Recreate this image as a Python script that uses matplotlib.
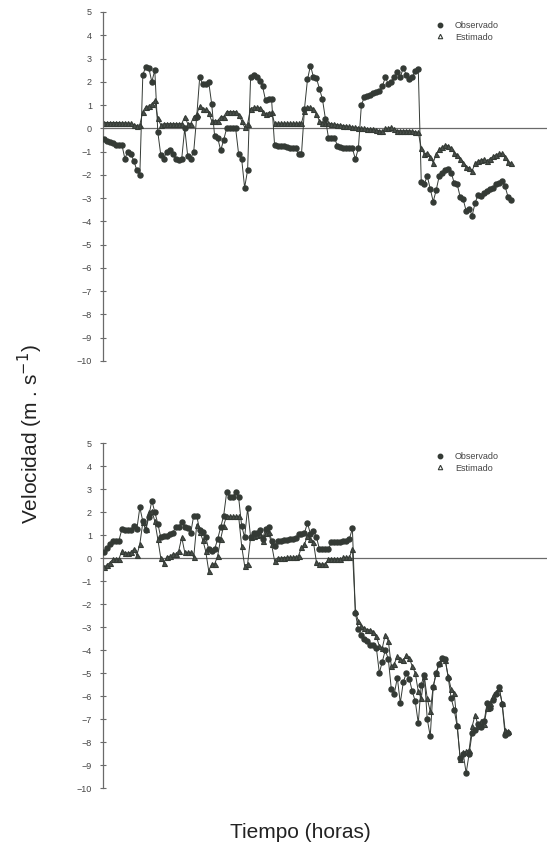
import numpy as np
import matplotlib
matplotlib.use("Agg")
import matplotlib.pyplot as plt

# velocidad del viento, panel superior (m/s), una lectura por hora
obs_top = [-0.45, -0.55, -0.6, -0.65, -0.7, -0.7, -0.7, -1.3, -1.0, -1.1,
           -1.4, -1.8, -2.0, 2.3, 2.65, 2.6, 2.0, 2.5, -0.15, -1.15,
           -1.3, -1.0, -0.95, -1.1, -1.3, -1.35, -1.3, 0.0, -1.2, -1.3,
           -1.0, 0.5, 2.2, 1.9, 1.9, 2.0, 1.05, -0.35, -0.4, -0.95,
           -0.5, 0.0, 0.0, 0.0, 0.0, -1.1, -1.3, -2.55, -1.8, 2.2,
           2.3, 2.2, 2.05, 1.8, 1.2, 1.25, 1.25, -0.7, -0.75, -0.75,
           -0.75, -0.8, -0.85, -0.85, -0.85, -1.1, -1.1, 0.85, 2.1, 2.7,
           2.2, 2.15, 1.7, 1.25, 0.4, -0.4, -0.4, -0.4, -0.75, -0.8,
           -0.85, -0.85, -0.85, -0.85, -1.33, -0.85, 1.0, 1.35, 1.4, 1.45,
           1.5, 1.55, 1.6, 1.8, 2.2, 1.9, 2.0, 2.2, 2.4, 2.2,
           2.6, 2.3, 2.1, 2.2, 2.45, 2.55, -2.3, -2.4, -2.05, -2.6,
           -3.15, -2.65, -2.05, -1.9, -1.8, -1.75, -1.9, -2.35, -2.4, -2.95,
           -3.05, -3.55, -3.45, -3.75, -3.2, -2.85, -2.9, -2.8, -2.7, -2.6,
           -2.55, -2.4, -2.35, -2.25, -2.5, -2.95, -3.1]
est_top = [0.25, 0.25, 0.25, 0.25, 0.25, 0.25, 0.24, 0.24, 0.23, 0.22,
           0.15, 0.12, 0.15, 0.72, 0.93, 0.96, 1.05, 1.2, 0.43, 0.15,
           0.2, 0.2, 0.2, 0.2, 0.2, 0.2, 0.2, 0.5, 0.2, 0.2,
           0.5, 0.6, 0.96, 0.82, 0.82, 0.65, 0.33, 0.33, 0.33, 0.5,
           0.5, 0.72, 0.72, 0.72, 0.72, 0.57, 0.33, 0.05, 0.2, 0.85,
           0.9, 0.9, 0.88, 0.72, 0.6, 0.68, 0.7, 0.22, 0.22, 0.22,
           0.22, 0.22, 0.22, 0.22, 0.22, 0.22, 0.22, 0.75, 0.93, 0.9,
           0.85, 0.6, 0.32, 0.25, 0.24, 0.22, 0.2, 0.18, 0.16, 0.14,
           0.12, 0.1, 0.08, 0.05, 0.05, 0.02, 0.0, 0.0, -0.02, -0.05,
           -0.05, -0.08, -0.1, -0.13, 0.0, 0.0, 0.05, -0.05, -0.1, -0.1,
           -0.1, -0.1, -0.1, -0.12, -0.15, -0.17, -0.85, -1.1, -1.05, -1.25,
           -1.47, -1.1, -0.9, -0.8, -0.72, -0.75, -0.85, -1.05, -1.13, -1.3,
           -1.47, -1.65, -1.7, -1.82, -1.5, -1.4, -1.35, -1.32, -1.4, -1.3,
           -1.2, -1.13, -1.08, -1.08, -1.25, -1.45, -1.5]

# panel inferior
obs_bot = [0.25, 0.45, 0.6, 0.75, 0.75, 0.75, 1.25, 1.2, 1.2, 1.2,
           1.4, 1.25, 2.2, 1.6, 1.2, 1.8, 2.5, 2.0, 1.5, 0.9,
           0.95, 0.97, 1.05, 1.1, 1.35, 1.35, 1.58, 1.33, 1.29, 1.1,
           1.84, 1.84, 1.2, 1.15, 0.9, 0.39, 0.3, 0.39, 0.83, 1.33,
           1.84, 2.85, 2.64, 2.64, 2.85, 2.64, 1.41, 0.9, 2.16, 0.9,
           1.1, 1.1, 1.2, 0.83, 1.26, 1.33, 0.75, 0.54, 0.75, 0.75,
           0.78, 0.8, 0.83, 0.83, 0.85, 1.04, 1.04, 1.1, 1.52, 1.04,
           1.19, 0.9, 0.39, 0.39, 0.39, 0.4, 0.68, 0.68, 0.7, 0.68,
           0.75, 0.75, 0.83, 1.29, -2.4, -3.1, -3.35, -3.5, -3.6, -3.77,
           -3.8, -3.9, -5.0, -4.5, -4.0, -4.4, -5.7, -5.9, -5.2, -6.3,
           -5.4, -5.0, -5.25, -5.8, -6.23, -7.18, -5.5, -5.07, -7.0, -7.75,
           -5.6, -5.0, -4.6, -4.35, -4.4, -5.2, -6.1, -6.6, -7.32, -8.7,
           -8.5, -9.35, -8.5, -7.6, -7.46, -7.2, -7.35, -7.1, -6.3, -6.5,
           -6.16, -5.9, -5.62, -6.33, -7.7, -7.6]
est_bot = [-0.4, -0.3, -0.2, -0.05, -0.04, -0.04, 0.3, 0.22, 0.22, 0.25,
           0.39, 0.12, 0.6, 1.55, 1.26, 1.98, 2.06, 1.6, 0.83, 0.0,
           -0.2, 0.05, 0.07, 0.17, 0.17, 0.32, 0.9, 0.25, 0.25, 0.25,
           0.03, 1.45, 1.15, 0.8, 0.3, -0.55, -0.26, -0.26, 0.1, 0.83,
           1.41, 1.84, 1.81, 1.81, 1.81, 1.81, 0.54, -0.33, -0.26, 0.9,
           0.95, 1.0, 1.05, 0.75, 1.1, 1.15, 0.6, -0.12, 0.0, 0.0,
           0.02, 0.03, 0.03, 0.03, 0.05, 0.1, 0.46, 0.6, 0.97, 0.83,
           0.68, -0.19, -0.26, -0.26, -0.26, -0.04, -0.04, -0.04, -0.04, -0.04,
           0.03, 0.03, 0.03, 0.39, -2.32, -2.75, -2.97, -3.05, -3.12, -3.12,
           -3.2, -3.4, -3.84, -3.9, -3.33, -3.6, -4.7, -4.6, -4.27, -4.4,
           -4.45, -4.2, -4.35, -4.7, -5.0, -5.8, -6.1, -5.14, -6.1, -6.67,
           -5.58, -5.0, -4.55, -4.35, -4.45, -5.14, -5.7, -5.87, -7.25, -8.74,
           -8.45, -8.41, -8.33, -7.32, -6.81, -7.3, -7.1, -7.2, -6.5, -6.3,
           -5.99, -5.84, -5.65, -6.3, -7.46, -7.54]

yticks = list(range(-10, 6))
ink = '#343a35'
gris = '#6a6a6a'

plt.rcParams['font.family'] = ['Liberation Sans', 'DejaVu Sans']

fig = plt.figure(figsize=(5.47, 8.51), dpi=100)
ax1 = fig.add_axes([0.1883, 0.5758, 0.8117, 0.4101])
ax2 = fig.add_axes([0.1883, 0.0740, 0.8117, 0.4054])

for ax, obs, est in [(ax1, obs_top, est_top), (ax2, obs_bot, est_bot)]:
    h_obs = np.arange(len(obs))
    h_est = np.arange(len(est))
    ax.axhline(0, color=gris, lw=0.9, zorder=1)
    ax.plot(h_obs, obs, '-o', color=ink, lw=0.7, ms=3.6, mec=ink, mfc=ink,
            label='Observado', zorder=3)
    ax.plot(h_est, est, '-^', color=ink, lw=0.7, ms=3.6, mec=ink, mfc='#4a504b',
            mew=0.8, label='Estimado', zorder=2)
    ax.set_xlim(-0.3, 148)
    ax.set_ylim(-10, 5)
    ax.set_yticks(yticks)
    ax.set_yticklabels([str(t).replace('-', '\u2212') for t in yticks])
    ax.set_xticks([])
    for s in ['top', 'right', 'bottom']:
        ax.spines[s].set_visible(False)
    ax.spines['left'].set_color(gris)
    ax.spines['left'].set_linewidth(0.9)
    ax.tick_params(axis='y', direction='inout', length=4, width=0.8,
                   colors=gris, labelsize=6.5, labelcolor='#444444', pad=6)
    leg = ax.legend(loc='upper left', bbox_to_anchor=(0.74, 0.985), frameon=False,
                    fontsize=6.5, handlelength=1.0, handletextpad=1.2,
                    labelspacing=0.3, borderaxespad=0)
    lines = leg.get_lines()
    for line in lines:
        line.set_linestyle('')
    lines[0].set_markersize(3.2)
    lines[1].set_markerfacecolor('white')
    lines[1].set_markersize(3.2)
    for t in leg.get_texts():
        t.set_color('#444444')
    ax.patch.set_alpha(0)

fig.text(0.055, 0.49, 'Velocidad (m . s$^{-1}$)', rotation=90, ha='center',
         va='center', fontsize=15, color='#222222')
fig.text(0.55, 0.022, 'Tiempo (horas)', ha='center', va='center',
         fontsize=15, color='#222222')

fig.savefig('out.png', dpi=100)
